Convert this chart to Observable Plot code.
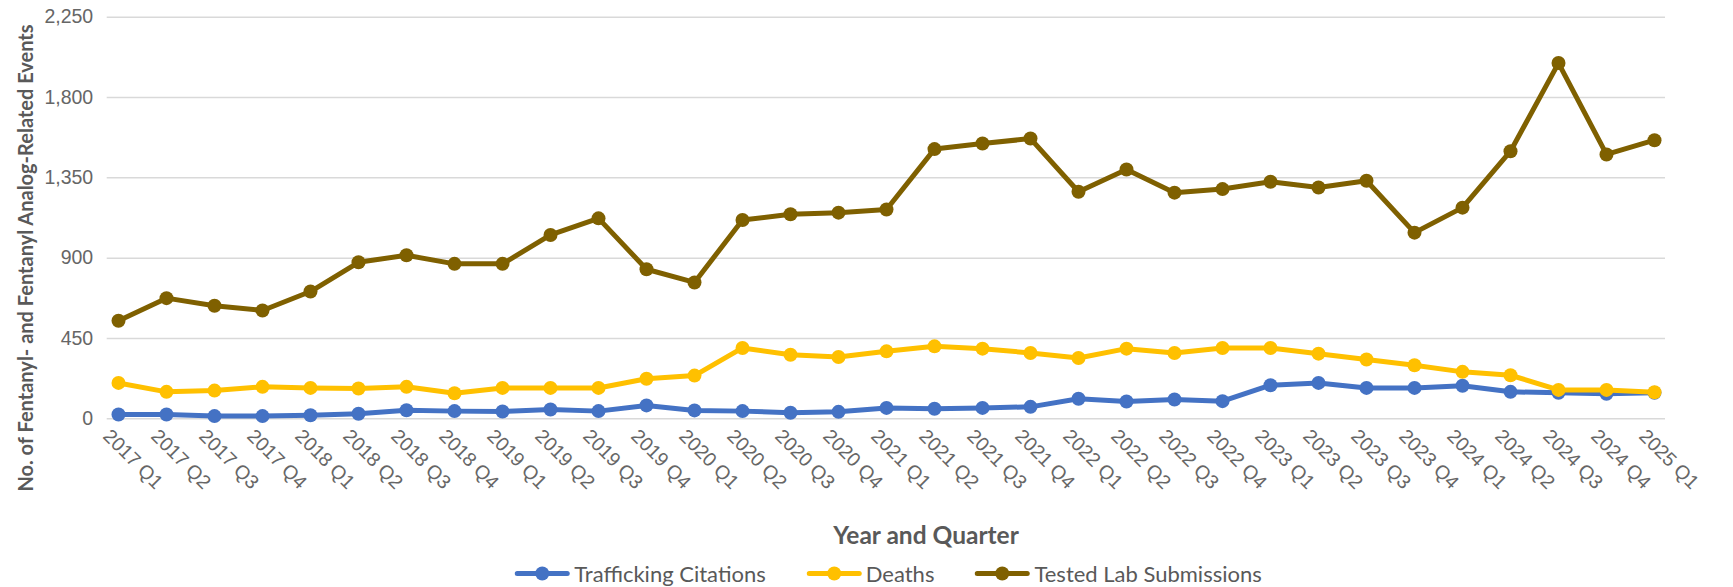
<!DOCTYPE html>
<html>
<head>
<meta charset="utf-8">
<script src="https://cdn.jsdelivr.net/npm/d3@7"></script>
<script src="https://cdn.jsdelivr.net/npm/@observablehq/plot@0.6"></script>
<style>
  html, body { margin: 0; padding: 0; background: #fff; }
  #wrap { position: relative; width: 1733px; height: 587px; overflow: hidden; }
  #chart { position: absolute; left: 0; top: 0; }
  #ytitle { position: absolute; left: 25px; top: 258px; transform: translate(-50%, -50%) rotate(-90deg);
    white-space: nowrap; font: bold 20px Lato, "Open Sans", sans-serif; color: #595959; }
  #xtitle { position: absolute; left: 926px; top: 534px; transform: translate(-50%, -50%);
    white-space: nowrap; font: bold 24.5px Lato, "Open Sans", sans-serif; color: #595959; }
  #legend { position: absolute; left: 888px; top: 573px; transform: translate(-50%, -50%);
    display: flex; align-items: center; white-space: nowrap; font: 22px Lato, "Open Sans", sans-serif; color: #595959; }
  .item { display: flex; align-items: center; margin: 0 20px; }
  .item svg { margin-right: 4px; }
</style>
</head>
<body>
<div id="wrap">
  <div id="chart"></div>
  <div id="ytitle"></div>
  <div id="xtitle"></div>
  <div id="legend"></div>
</div>
<script>
const quarters = [
  "2017 Q1","2017 Q2","2017 Q3","2017 Q4",
  "2018 Q1","2018 Q2","2018 Q3","2018 Q4",
  "2019 Q1","2019 Q2","2019 Q3","2019 Q4",
  "2020 Q1","2020 Q2","2020 Q3","2020 Q4",
  "2021 Q1","2021 Q2","2021 Q3","2021 Q4",
  "2022 Q1","2022 Q2","2022 Q3","2022 Q4",
  "2023 Q1","2023 Q2","2023 Q3","2023 Q4",
  "2024 Q1","2024 Q2","2024 Q3","2024 Q4",
  "2025 Q1"
];
const traffickingCitations = [24,24,15,15,20,28,48,43,41,52,43,75,47,43,34,39,61,56,61,67,112,97,108,99,188,201,173,173,185,151,146,140,146];
const deaths = [201,151,158,179,173,170,179,143,173,173,173,224,242,397,359,346,378,406,393,369,341,393,369,397,397,365,332,300,263,244,162,162,149];
const testedLabSubmissions = [549,676,633,607,713,877,916,868,868,1030,1123,838,764,1114,1146,1155,1173,1511,1542,1570,1272,1397,1267,1287,1328,1296,1334,1043,1183,1499,1993,1481,1561];

const seriesNames = ["Trafficking Citations", "Deaths", "Tested Lab Submissions"];
const seriesColors = ["#4472C4", "#FFC000", "#7F6000"];
const yTicks = [0, 450, 900, 1350, 1800, 2250];
const yTitle = "No. of Fentanyl- and Fentanyl Analog-Related Events";
const xTitle = "Year and Quarter";

const seriesValues = [traffickingCitations, deaths, testedLabSubmissions];
const tables = seriesValues.map((vals, s) => vals.map((v, i) => ({quarter: quarters[i], value: v, series: seriesNames[s]})));

const tickFont = "'Liberation Sans', Arial, sans-serif";
const W = 1733, H = 500;
const marks = [
  Plot.gridY(yTicks, {stroke: "#d9d9d9", strokeOpacity: 1, strokeWidth: 1.5}),
  Plot.axisY({ticks: yTicks, tickSize: 0, tickPadding: 14, tickFormat: d3.format(","), label: null,
    fontSize: 19.5, fontFamily: tickFont, fill: "#666"}),
  Plot.axisX({tickSize: 0, tickPadding: 14, tickRotate: 45, dx: -12, label: null,
    fontSize: 19.5, fontFamily: tickFont, fill: "#666"})
];
tables.forEach((t, s) => {
  marks.push(Plot.line(t, {x: "quarter", y: "value", stroke: seriesColors[s], strokeWidth: 5, strokeLinejoin: "round", strokeLinecap: "round"}));
  marks.push(Plot.dot(t, {x: "quarter", y: "value", r: 7, fill: seriesColors[s], stroke: "none"}));
});

const chart = Plot.plot({
  width: W, height: H,
  marginLeft: 106.7, marginRight: 68, marginTop: 16.7, marginBottom: H - 418.3,
  style: {fontFamily: tickFont, fontSize: "19.5px", color: "#666", background: "#fff"},
  x: {type: "point", domain: quarters, padding: 0},
  y: {domain: [0, 2250]},
  marks
});
document.getElementById("chart").appendChild(chart);
document.getElementById("ytitle").textContent = yTitle;
document.getElementById("xtitle").textContent = xTitle;

const legend = document.getElementById("legend");
seriesNames.forEach((name, s) => {
  const item = document.createElement("div");
  item.className = "item";
  item.innerHTML = `<svg width="56" height="16"><line x1="3" y1="8" x2="53" y2="8" stroke="${seriesColors[s]}" stroke-width="5" stroke-linecap="round"/><circle cx="28" cy="8" r="7" fill="${seriesColors[s]}"/></svg><span>${name}</span>`;
  legend.appendChild(item);
});
</script>
</body>
</html>
